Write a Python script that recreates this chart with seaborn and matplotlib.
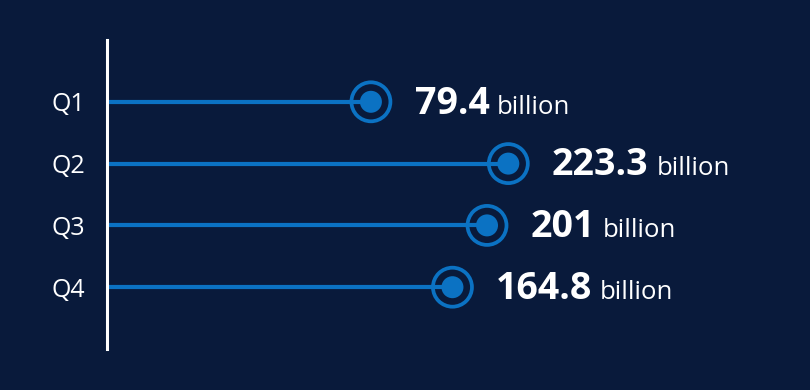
import matplotlib
matplotlib.use("Agg")
import matplotlib.pyplot as plt
import seaborn as sns
import pandas as pd
from matplotlib.transforms import offset_copy

quarters = ["Q1", "Q2", "Q3", "Q4"]
values = [79.4, 223.3, 201, 164.8]
value_labels = ["79.4", "223.3", "201", "164.8"]
unit = "billion"

BG = "#091a3b"
BLUE = "#0b72c3"

sns.set_theme(style="white")
plt.rcParams["font.family"] = ["Open Sans", "DejaVu Sans"]

df = pd.DataFrame({"quarter": quarters, "value": values})

fig = plt.figure(figsize=(8.1, 3.9), dpi=100, facecolor=BG)
ax = fig.add_axes([107 / 810, 1 - 349 / 390, (800 - 107) / 810, (349 - 40) / 390])
ax.set_facecolor(BG)

xmin = -197
ypos = list(range(len(quarters)))
ax.hlines(y=ypos, xmin=xmin, xmax=df["value"], color=BLUE, linewidth=3, zorder=1)
sns.scatterplot(data=df, x="value", y="quarter", ax=ax, s=(22 * 0.72) ** 2,
                color=BLUE, edgecolor="none", zorder=3, legend=False)
sns.scatterplot(data=df, x="value", y="quarter", ax=ax, s=(39 * 0.72) ** 2,
                facecolor="none", edgecolor=BLUE, linewidth=2.7, zorder=3, legend=False)

ax.set_xlim(xmin, (800 - 295) / 0.955)
ax.set_ylim(len(quarters), -1)
ax.set_xlabel("")
ax.set_ylabel("")
ax.set_xticks([])
ax.set_yticks(ypos)
ax.set_yticklabels(quarters, color="white", fontsize=18)
ax.tick_params(axis="y", length=0, pad=16)

for s in ["top", "right", "bottom"]:
    ax.spines[s].set_visible(False)
ax.spines["left"].set_color("white")
ax.spines["left"].set_linewidth(2.2)
ax.spines["left"].set_zorder(5)

fig.canvas.draw()
renderer = fig.canvas.get_renderer()
for y, v, lab in zip(ypos, values, value_labels):
    tr = offset_copy(ax.transData, fig=fig, x=31.5, y=-8.5, units="points")
    t = ax.text(v, y, lab, transform=tr, color="white", fontsize=27,
                fontweight="bold", ha="left", va="baseline")
    bb = t.get_window_extent(renderer=renderer)
    w_pts = bb.width * 72 / fig.dpi
    tr2 = offset_copy(ax.transData, fig=fig, x=31.5 + w_pts + 5.5, y=-8.5, units="points")
    ax.text(v, y, unit, transform=tr2, color="white", fontsize=18.5,
            ha="left", va="baseline")

fig.savefig("out.png", dpi=100, facecolor=BG)
